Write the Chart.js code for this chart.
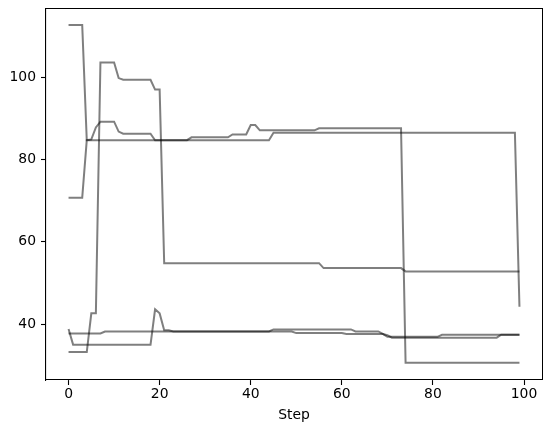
<!DOCTYPE html>
<html>
<head>
<meta charset="utf-8">
<script src="https://cdn.jsdelivr.net/npm/chart.js@4/dist/chart.umd.min.js"></script>
<style>
  html, body { margin: 0; padding: 0; background: #fff; }
  #wrap { width: 552px; height: 432px; }
</style>
</head>
<body>
<div id="wrap"><canvas id="chart"></canvas></div>
<script>
'use strict';

// step index for every sample
const steps = Array.from({ length: 100 }, (_, i) => i);

const xTicks = [0, 20, 40, 60, 80, 100];
const yTicks = [40, 60, 80, 100];

const run1 = [
  112.7, 112.7, 112.7, 112.7, 84.7, 84.7, 84.7, 84.7, 84.7, 84.7,
  84.7, 84.7, 84.7, 84.7, 84.7, 84.7, 84.7, 84.7, 84.7, 84.7,
  84.7, 84.7, 84.7, 84.7, 84.7, 84.7, 84.7, 84.7, 84.7, 84.7,
  84.7, 84.7, 84.7, 84.7, 84.7, 84.7, 84.7, 84.7, 84.7, 84.7,
  84.7, 84.7, 84.7, 84.7, 84.7, 86.5, 86.5, 86.5, 86.5, 86.5,
  86.5, 86.5, 86.5, 86.5, 86.5, 86.5, 86.5, 86.5, 86.5, 86.5,
  86.5, 86.5, 86.5, 86.5, 86.5, 86.5, 86.5, 86.5, 86.5, 86.5,
  86.5, 86.5, 86.5, 86.5, 86.5, 86.5, 86.5, 86.5, 86.5, 86.5,
  86.5, 86.5, 86.5, 86.5, 86.5, 86.5, 86.5, 86.5, 86.5, 86.5,
  86.5, 86.5, 86.5, 86.5, 86.5, 86.5, 86.5, 86.5, 86.5, 44.2,
];

const run2 = [
  70.7, 70.7, 70.7, 70.7, 84.7, 84.9, 87.8, 89.2, 89.2, 89.2,
  89.2, 86.8, 86.3, 86.3, 86.3, 86.3, 86.3, 86.3, 86.3, 84.7,
  84.7, 84.7, 84.7, 84.7, 84.7, 84.7, 84.7, 85.4, 85.4, 85.4,
  85.4, 85.4, 85.4, 85.4, 85.4, 85.4, 86.1, 86.1, 86.1, 86.1,
  88.4, 88.4, 87.1, 87.1, 87.1, 87.1, 87.1, 87.1, 87.1, 87.1,
  87.1, 87.1, 87.1, 87.1, 87.1, 87.6, 87.6, 87.6, 87.6, 87.6,
  87.6, 87.6, 87.6, 87.6, 87.6, 87.6, 87.6, 87.6, 87.6, 87.6,
  87.6, 87.6, 87.6, 87.6, 30.6, 30.6, 30.6, 30.6, 30.6, 30.6,
  30.6, 30.6, 30.6, 30.6, 30.6, 30.6, 30.6, 30.6, 30.6, 30.6,
  30.6, 30.6, 30.6, 30.6, 30.6, 30.6, 30.6, 30.6, 30.6, 30.6,
];

const run3 = [
  33.2, 33.2, 33.2, 33.2, 33.2, 42.6, 42.6, 103.6, 103.6, 103.6,
  103.6, 99.8, 99.4, 99.4, 99.4, 99.4, 99.4, 99.4, 99.4, 97.0,
  97.0, 54.8, 54.8, 54.8, 54.8, 54.8, 54.8, 54.8, 54.8, 54.8,
  54.8, 54.8, 54.8, 54.8, 54.8, 54.8, 54.8, 54.8, 54.8, 54.8,
  54.8, 54.8, 54.8, 54.8, 54.8, 54.8, 54.8, 54.8, 54.8, 54.8,
  54.8, 54.8, 54.8, 54.8, 54.8, 54.8, 53.6, 53.6, 53.6, 53.6,
  53.6, 53.6, 53.6, 53.6, 53.6, 53.6, 53.6, 53.6, 53.6, 53.6,
  53.6, 53.6, 53.6, 53.6, 52.8, 52.8, 52.8, 52.8, 52.8, 52.8,
  52.8, 52.8, 52.8, 52.8, 52.8, 52.8, 52.8, 52.8, 52.8, 52.8,
  52.8, 52.8, 52.8, 52.8, 52.8, 52.8, 52.8, 52.8, 52.8, 52.8,
];

const run4 = [
  38.8, 35.0, 35.0, 35.0, 35.0, 35.0, 35.0, 35.0, 35.0, 35.0,
  35.0, 35.0, 35.0, 35.0, 35.0, 35.0, 35.0, 35.0, 35.0, 43.6,
  42.6, 38.5, 38.5, 38.2, 38.2, 38.2, 38.2, 38.2, 38.2, 38.2,
  38.2, 38.2, 38.2, 38.2, 38.2, 38.2, 38.2, 38.2, 38.2, 38.2,
  38.2, 38.2, 38.2, 38.2, 38.2, 38.7, 38.7, 38.7, 38.7, 38.7,
  38.7, 38.7, 38.7, 38.7, 38.7, 38.7, 38.7, 38.7, 38.7, 38.7,
  38.7, 38.7, 38.7, 38.2, 38.2, 38.2, 38.2, 38.2, 38.2, 37.6,
  36.9, 36.9, 36.9, 36.9, 36.9, 36.9, 36.9, 36.9, 36.9, 36.9,
  36.9, 36.9, 37.4, 37.4, 37.4, 37.4, 37.4, 37.4, 37.4, 37.4,
  37.4, 37.4, 37.4, 37.4, 37.4, 37.4, 37.4, 37.4, 37.4, 37.4,
];

const run5 = [
  37.7, 37.7, 37.7, 37.7, 37.7, 37.7, 37.7, 37.7, 38.2, 38.2,
  38.2, 38.2, 38.2, 38.2, 38.2, 38.2, 38.2, 38.2, 38.2, 38.2,
  38.2, 38.2, 38.2, 38.2, 38.2, 38.2, 38.2, 38.2, 38.2, 38.2,
  38.2, 38.2, 38.2, 38.2, 38.2, 38.2, 38.2, 38.2, 38.2, 38.2,
  38.2, 38.2, 38.2, 38.2, 38.2, 38.2, 38.2, 38.2, 38.2, 38.2,
  37.8, 37.8, 37.8, 37.8, 37.8, 37.8, 37.8, 37.8, 37.8, 37.8,
  37.8, 37.6, 37.6, 37.6, 37.6, 37.6, 37.6, 37.6, 37.6, 37.6,
  37.3, 36.7, 36.7, 36.7, 36.7, 36.7, 36.7, 36.7, 36.7, 36.7,
  36.7, 36.7, 36.7, 36.7, 36.7, 36.7, 36.7, 36.7, 36.7, 36.7,
  36.7, 36.7, 36.7, 36.7, 36.7, 37.4, 37.4, 37.4, 37.4, 37.4,
];

const runs = [run1, run2, run3, run4, run5];

const LINE_COLOR = 'rgba(0, 0, 0, 0.5)';
const FONT = { family: 'DejaVu Sans', size: 13.9 };

// top and right spines, drawn as solid 1px bars
const framePlugin = {
  id: 'frame',
  afterDraw(chart) {
    const { ctx } = chart;
    const l = Math.round(chart.scales.x.left);
    const r = Math.round(chart.scales.x.right);
    const t = Math.max(Math.round(chart.scales.y.top), 1);
    const b = Math.round(chart.scales.y.bottom);
    ctx.save();
    ctx.fillStyle = '#000';
    ctx.fillRect(l - 1, t - 1, r - l + 2, 1);
    ctx.fillRect(r, t - 1, 1, b - t + 1);
    ctx.restore();
  },
};

new Chart(document.getElementById('chart'), {
  type: 'line',
  data: {
    datasets: runs.map(r => ({
      data: r.map((v, i) => ({ x: steps[i], y: v })),
      borderColor: LINE_COLOR,
      borderWidth: 2,
      pointRadius: 0,
      tension: 0,
      fill: false,
    })),
  },
  options: {
    responsive: true,
    maintainAspectRatio: false,
    animation: false,
    layout: { padding: { left: 0, top: 9, right: 10, bottom: 0 } },
    plugins: {
      legend: { display: false },
      tooltip: { enabled: false },
    },
    scales: {
      x: {
        type: 'linear',
        min: -4.95,
        max: 103.95,
        afterBuildTicks: axis => { axis.ticks = xTicks.map(v => ({ value: v })); },
        afterFit: axis => { axis.height = 52; axis.paddingLeft = 0; axis.paddingRight = 0; },
        ticks: { color: '#000', font: FONT, padding: 1, maxRotation: 0 },
        grid: { drawOnChartArea: false, drawTicks: true, tickLength: 5, color: '#000', tickWidth: 1.1 },
        border: { display: true, color: '#000', width: 1.1 },
        title: { display: true, text: 'Step', color: '#000', font: FONT, padding: { top: 0, bottom: 8 } },
      },
      y: {
        type: 'linear',
        min: 26.4,
        max: 116.6,
        afterBuildTicks: axis => { axis.ticks = yTicks.map(v => ({ value: v })); },
        afterFit: axis => { axis.width = 46; axis.paddingTop = 0; axis.paddingBottom = 0; },
        ticks: { color: '#000', font: FONT, padding: 5 },
        grid: { drawOnChartArea: false, drawTicks: true, tickLength: 5, color: '#000', tickWidth: 1.1 },
        border: { display: true, color: '#000', width: 1.1 },
      },
    },
  },
  plugins: [framePlugin],
});
</script>
</body>
</html>
